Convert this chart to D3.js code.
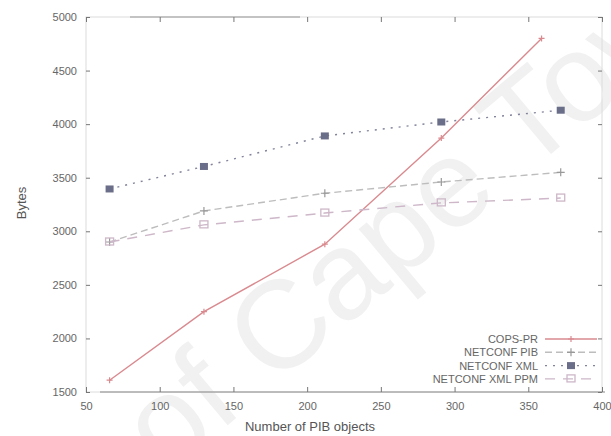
<!DOCTYPE html>
<html>
<head>
<meta charset="utf-8">
<script src="https://cdn.jsdelivr.net/npm/d3@7"></script>
<style>
  body { margin: 0; background: #fff; }
  text { font-family: "Liberation Sans", Arial, sans-serif; }
</style>
</head>
<body>
<div id="chart-container"></div>
<script>
// values
var copsX = [66, 130, 212, 291, 359];
var copsY = [1610, 2250, 2880, 3870, 4800];

var pibX = [66, 130, 212, 291, 372];
var pibY = [2900, 3190, 3355, 3460, 3550];

var xmlX = [66, 130, 212, 291, 372];
var xmlY = [3395, 3605, 3890, 4020, 4130];

var ppmX = [66, 130, 212, 291, 372];
var ppmY = [2900, 3060, 3170, 3265, 3310];

var seriesNames = ["COPS-PR", "NETCONF PIB", "NETCONF XML", "NETCONF XML PPM"];
var xTicks = [50, 100, 150, 200, 250, 300, 350, 400];
var yTicks = [1500, 2000, 2500, 3000, 3500, 4000, 4500, 5000];

var Chart = function() {
  this.width = 611;
  this.height = 436;
  this.left = 86;
  this.right = 602;
  this.top = 17;
  this.bottom = 392;
  this.x = d3.scaleLinear().domain([50, 400]).range([this.left, this.right]);
  this.y = d3.scaleLinear().domain([1500, 5000]).range([this.bottom, this.top]);
  this.series = [
    {name: seriesNames[0], xs: copsX, ys: copsY, color: "#d98a8f", dash: null, mark: "tick"},
    {name: seriesNames[1], xs: pibX, ys: pibY, color: "#bdbdbd", dash: "7,4", mark: "plus"},
    {name: seriesNames[2], xs: xmlX, ys: xmlY, color: "#80839a", dash: "2,6", mark: "dot"},
    {name: seriesNames[3], xs: ppmX, ys: ppmY, color: "#cdb7c8", dash: "10,8", mark: "box"}
  ];
};

Chart.prototype.display = function() {
  this.svg = d3.select("#chart-container").append("svg")
    .attr("width", this.width).attr("height", this.height);

  this.displayWatermark();
  this.displayFrame();
  this.displayAxes();
  this.displaySeries();
  this.displayLegend();
};

Chart.prototype.displayWatermark = function() {
  // faint scan watermark running corner to corner
  this.svg.append("text")
    .attr("transform", "translate(166,477) rotate(-40)")
    .attr("font-size", 125)
    .attr("fill", "#f1f1f1")
    .text("of Cape Town");
};

Chart.prototype.displayFrame = function() {
  this.svg.append("rect")
    .attr("x", this.left).attr("y", this.top)
    .attr("width", this.right - this.left).attr("height", this.bottom - this.top)
    .attr("fill", "none").attr("stroke", "#dcdcdc").attr("stroke-width", 1);

  this.svg.append("line")
    .attr("x1", 100).attr("x2", 605)
    .attr("y1", this.bottom).attr("y2", this.bottom)
    .attr("stroke", "#8a8a8a").attr("stroke-width", 1.2);

  this.svg.append("line")
    .attr("x1", 130).attr("x2", 300)
    .attr("y1", this.top).attr("y2", this.top)
    .attr("stroke", "#999").attr("stroke-width", 1);
};

Chart.prototype.displayAxes = function() {
  var fmt = d3.format("d");

  var xAxis = d3.axisBottom(this.x).tickValues(xTicks).tickFormat(fmt).tickSize(-5).tickPadding(10);
  var gx = this.svg.append("g").attr("transform", "translate(0," + this.bottom + ")").call(xAxis);
  gx.select(".domain").remove();

  var xTop = d3.axisTop(this.x).tickValues(xTicks).tickSize(-5).tickFormat("");
  var gxt = this.svg.append("g").attr("transform", "translate(0," + this.top + ")").call(xTop);
  gxt.select(".domain").remove();

  var yAxis = d3.axisLeft(this.y).tickValues(yTicks).tickFormat(fmt).tickSize(-4).tickPadding(9);
  var gy = this.svg.append("g").attr("transform", "translate(" + this.left + ",0)").call(yAxis);
  gy.select(".domain").remove();

  var yRight = d3.axisRight(this.y).tickValues(yTicks).tickSize(-4).tickFormat("");
  var gyr = this.svg.append("g").attr("transform", "translate(" + this.right + ",0)").call(yRight);
  gyr.select(".domain").remove();

  this.svg.selectAll(".tick line").attr("stroke", "#777");
  this.svg.selectAll(".tick text")
    .attr("font-family", "'Liberation Sans', Arial, sans-serif")
    .attr("font-size", 11)
    .attr("fill", "#666");

  this.svg.append("text")
    .attr("x", 310).attr("y", 431)
    .attr("text-anchor", "middle")
    .attr("font-size", 13)
    .attr("fill", "#555")
    .text("Number of PIB objects");

  this.svg.append("text")
    .attr("transform", "translate(26,203) rotate(-90)")
    .attr("text-anchor", "middle")
    .attr("font-size", 13)
    .attr("fill", "#555")
    .text("Bytes");
};

Chart.prototype.seriesToSampleData = function(s) {
  var c = this;
  return s.xs.map(function(v, i) {
    return {cx: c.x(v), cy: c.y(s.ys[i])};
  });
};

Chart.prototype.drawMark = function(g, mark, color) {
  if (mark == "box") {
    g.append("rect").attr("x", -4).attr("y", -4).attr("width", 8).attr("height", 7)
      .attr("fill", "none").attr("stroke", color).attr("stroke-width", 1.3);
  } else if (mark == "dot") {
    g.append("rect").attr("x", -4).attr("y", -3.5).attr("width", 8).attr("height", 7)
      .attr("fill", "#6b6e88");
  } else if (mark == "plus") {
    g.append("path").attr("d", "M-4,0H4M0,-4V4")
      .attr("stroke", "#999").attr("stroke-width", 1.2);
  } else {
    g.append("path").attr("d", "M-3,0H3M0,-3V3")
      .attr("stroke", color).attr("stroke-width", 1.2);
  }
};

Chart.prototype.displaySeries = function() {
  var c = this;
  var line = d3.line().x(function(d) { return d.cx; }).y(function(d) { return d.cy; });

  this.series.forEach(function(s) {
    var data = c.seriesToSampleData(s);
    c.svg.append("path")
      .datum(data)
      .attr("d", line)
      .attr("fill", "none")
      .attr("stroke", s.color)
      .attr("stroke-width", 1.4)
      .attr("stroke-dasharray", s.dash);

    var groups = c.svg.selectAll("g.mark-" + s.mark)
      .data(data)
      .enter()
      .append("g")
      .attr("class", "mark-" + s.mark)
      .attr("transform", function(d) { return "translate(" + d.cx + "," + d.cy + ")"; });

    groups.each(function() { c.drawMark(d3.select(this), s.mark, s.color); });
  });
};

Chart.prototype.displayLegend = function() {
  var c = this;
  var rows = this.svg.selectAll("g.legend")
    .data(this.series)
    .enter()
    .append("g")
    .attr("class", "legend")
    .attr("transform", function(d, i) { return "translate(0," + (339 + i * 13.3) + ")"; });

  rows.append("text")
    .attr("x", 538).attr("y", 4)
    .attr("text-anchor", "end")
    .attr("font-size", 11)
    .attr("fill", "#666")
    .text(function(d) { return d.name; });

  rows.append("line")
    .attr("x1", 545).attr("x2", 597)
    .attr("y1", 0).attr("y2", 0)
    .attr("stroke", function(d) { return d.color; })
    .attr("stroke-width", 1.4)
    .attr("stroke-dasharray", function(d) { return d.dash; });

  rows.each(function(d) {
    var g = d3.select(this).append("g").attr("transform", "translate(571,0)");
    c.drawMark(g, d.mark, d.color);
  });
};

var chart = new Chart();
chart.display();
</script>
</body>
</html>
